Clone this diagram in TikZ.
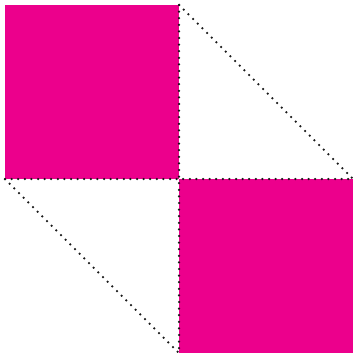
\documentclass[tikz,border=0pt]{standalone}
\definecolor{pmag}{HTML}{EC008C}
\begin{document}
\begin{tikzpicture}[x=1pt,y=-1pt,
  fillsq/.style={fill=pmag,draw=none},
  dotline/.style={line width=2.5pt,line cap=round,dash pattern=on 0pt off 6.6pt,black!90}]
\useasboundingbox (0,0) rectangle (353,358);
\coordinate (tl) at (5,5);
\coordinate (c) at (179,179);
\coordinate (tm) at (179,5);
\coordinate (mr) at (353,179);
\coordinate (ml) at (5,179);
\coordinate (bm) at (179,353);
\coordinate (br) at (353,353);
\fill[fillsq] (tl) rectangle (c);
\fill[fillsq] (c) rectangle (br);
\draw[dotline] (tm) -- (bm);
\draw[dotline] (ml) -- (mr);
\draw[dotline] (tm) -- (mr);
\draw[dotline] (ml) -- (bm);
\end{tikzpicture}
\end{document}
